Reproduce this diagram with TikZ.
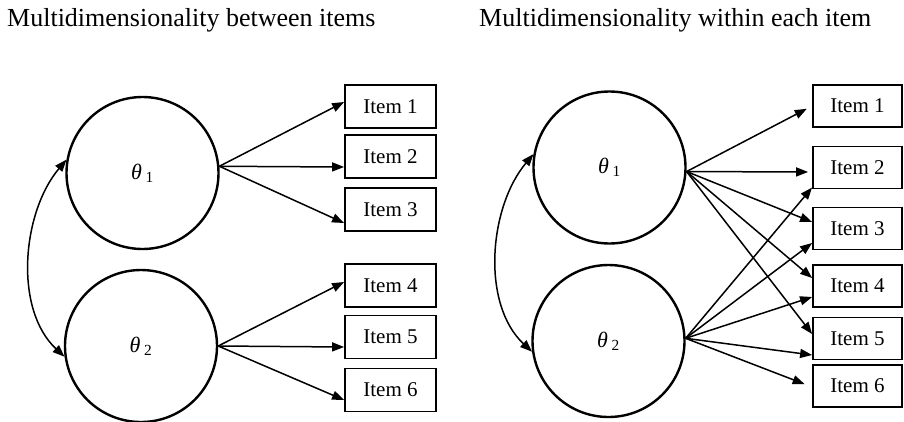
\documentclass[tikz,border=0pt]{standalone}
\usepackage{fontspec}
\setmainfont{Liberation Serif}
\usetikzlibrary{arrows.meta}
\usetikzlibrary{positioning}
\newcommand{\thsub}[1]{\textit{θ}\,\textsubscript{#1}}

\begin{document}
\begin{tikzpicture}[>={Triangle[length=12pt,width=9pt]},x=1pt,y=-1pt]
      \tikzstyle{title} = [anchor=base west, inner sep=0, font=\fontsize{26}{30}\selectfont]
      \tikzstyle{factor} = [circle, draw, line width=2.4pt, minimum size=152pt, inner sep=0,
         font=\fontsize{22}{24}\selectfont]
      \tikzstyle{item} = [rectangle, draw, line width=1.8pt, minimum width=91pt, minimum height=43pt,
         inner sep=0, font=\fontsize{21}{24}\selectfont]
      \tikzstyle{item'} = [item, minimum width=89pt, minimum height=42pt]
      \tikzstyle{line} = [draw=black, line width=1.5pt, ->]
      \tikzstyle{corr} = [line, <->, looseness=0.9]
      \useasboundingbox (0,0) rectangle (904,421);
      %titles
      \node[title] (between) at (7,26)   {Multidimensionality between items};
      \node[title] (within)  at (479,26) {Multidimensionality within each item};
      %left nodes
      \node[factor] (th1) at (142.5,173) {\thsub{1}};
      \node[factor] (th2) at (141,346)   {\thsub{2}};
      \node[item] (it1) at (390.5,106.5) {Item 1};
      \node[item] (it2) [below=5.2pt of it1]  {Item 2};
      \node[item] (it3) [below=8.2pt of it2]  {Item 3};
      \node[item] (it4) [below=31.2pt of it3] {Item 4};
      \node[item] (it5) [below=6.7pt of it4]  {Item 5};
      \node[item] (it6) [below=8.2pt of it5]  {Item 6};
      %right nodes
      \node[factor] (th1') at (609.5,167.5) {\thsub{1}};
      \node[factor] (th2') at (608.5,341)   {\thsub{2}};
      \node[item'] (it1') at (857.5,106) {Item 1};
      \node[item'] (it2') [below=17.7pt of it1'] {Item 2};
      \node[item'] (it3') [below=17.2pt of it2'] {Item 3};
      \node[item'] (it4') [below=13.7pt of it3'] {Item 4};
      \node[item'] (it5') [below=8.7pt of it4']  {Item 5};
      \node[item'] (it6') [below=3.7pt of it5']  {Item 6};
      %left lines
      \draw [line] (th1.5) -- ([yshift=4.5pt]it1.west);
      \draw [line] (th1.5) -- ([yshift=-10.5pt]it2.west);
      \draw [line] (th1.5) -- ([yshift=-13.5pt]it3.west);
      \draw [line] (th2.east) -- ([yshift=3.5pt]it4.west);
      \draw [line] (th2.east) -- ([yshift=-10pt]it5.west);
      \draw [line] (th2.east) -- ([yshift=-10pt]it6.west);
      \draw [corr] (th1.170) to[out=230,in=137] (th2.188);
      %right lines
      \draw [line, shorten >=6pt] (th1'.-3) -- (it1'.west);
      \draw [line, shorten >=4pt] (th1'.-3) -- ([yshift=-4.5pt]it2'.west);
      \draw [line] (th1'.-3) -- ([yshift=6.5pt]it3'.west);
      \draw [line] (th1'.-3) -- ([yshift=8pt]it4'.west);
      \draw [line] (th1'.-3) -- ([yshift=4.5pt]it5'.west);
      \draw [line] (th2'.2) -- ([yshift=-20pt]it2'.west);
      \draw [line] (th2'.2) -- ([yshift=-14.5pt]it3'.west);
      \draw [line] (th2'.2) -- ([yshift=-11pt]it4'.west);
      \draw [line] (th2'.2) -- ([yshift=-16.5pt]it5'.west);
      \draw [line, shorten >=8pt] (th2'.2) -- ([yshift=-1pt]it6'.west);
      \draw [corr] (th1'.170) to[out=230,in=137] (th2'.188);
\end{tikzpicture}
\end{document}
